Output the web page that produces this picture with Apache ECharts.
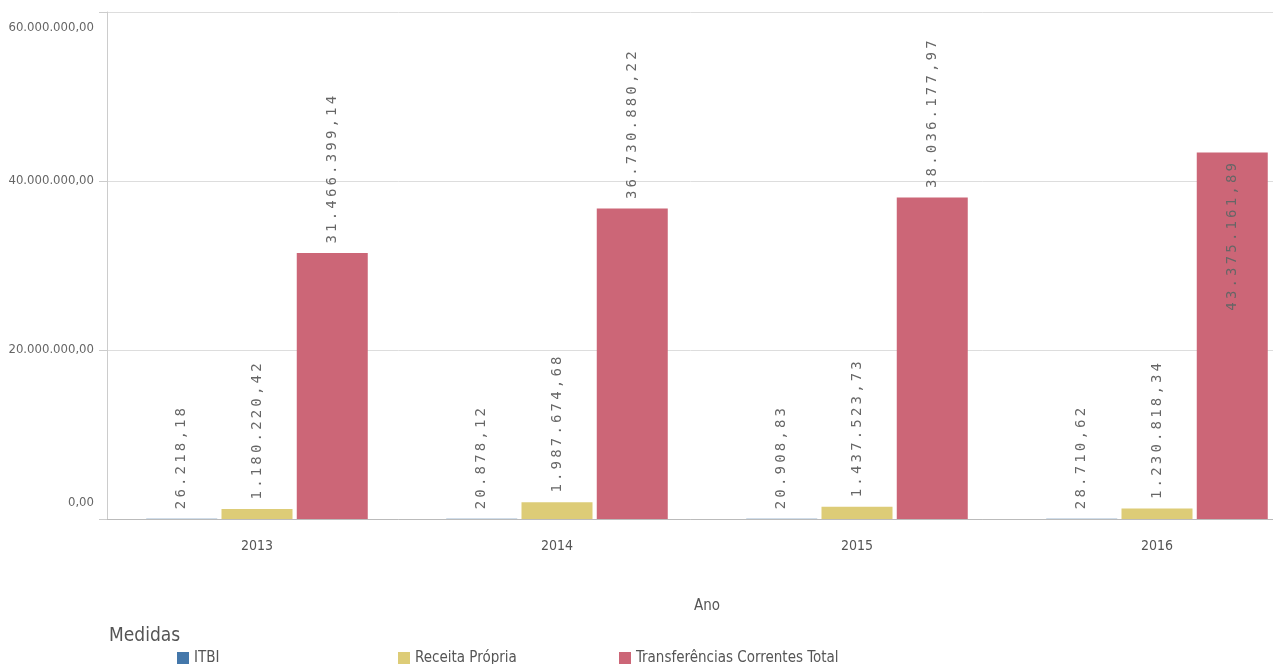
<!DOCTYPE html>
<html>
<head>
<meta charset="utf-8">
<script src="https://cdn.jsdelivr.net/npm/echarts@6/dist/echarts.min.js"></script>
<style>
html,body{margin:0;padding:0;background:#fff;}
#chart{width:1273px;height:664px;}
</style>
</head>
<body>
<div id="chart"></div>
<script>
const categories = ['2013', '2014', '2015', '2016'];
const itbi = [26218.18, 20878.12, 20908.83, 28710.62];
const receitaPropria = [1180220.42, 1987674.68, 1437523.73, 1230818.34];
const transferencias = [31466399.14, 36730880.22, 38036177.97, 43375161.89];
const seriesNames = ['ITBI', 'Receita Própria', 'Transferências Correntes Total'];
const colors = ['#4477aa', '#ddcc77', '#cc6677'];
const yMax = 60000000;
const yInterval = 20000000;

const narrow = "'Liberation Sans Narrow', 'DejaVu Sans Condensed', 'Roboto', sans-serif";

function fmt(v) {
  const parts = Number(v).toFixed(2).split('.');
  return parts[0].replace(/\B(?=(\d{3})+(?!\d))/g, '.') + ',' + parts[1];
}
function spaced(s) {
  return s.split('').map(ch => '{c|' + ch + '}').join('');
}

const labelBase = {
  show: true,
  position: 'top',
  rotate: 90,
  align: 'left',
  verticalAlign: 'middle',
  distance: 8,
  formatter: p => spaced(fmt(p.value)),
  rich: {
    c: { width: 11.6, align: 'center', fontFamily: 'DejaVu Sans Mono', fontSize: 14, color: '#666' }
  }
};

function buildData(arr) {
  return arr.map(v => {
    if (v + yMax * 0.3 > yMax) {
      return { value: v, label: { position: 'insideTop', align: 'right', distance: 9 } };
    }
    return v;
  });
}

const allSeries = [itbi, receitaPropria, transferencias].map((arr, i) => ({
  name: seriesNames[i],
  type: 'bar',
  barWidth: 71,
  barGap: '6%',
  itemStyle: { color: colors[i] },
  label: labelBase,
  data: buildData(arr)
}));

const legendLefts = [172, 393, 614];
const legends = seriesNames.map((n, i) => ({
  left: legendLefts[i],
  top: 646,
  itemWidth: 12,
  itemHeight: 13,
  icon: 'rect',
  data: [n],
  textStyle: { fontFamily: narrow, fontSize: 15, color: '#555' }
}));

const chart = echarts.init(document.getElementById('chart'));
chart.setOption({
  animation: false,
  color: colors,
  title: {
    text: 'Medidas',
    left: 104,
    top: 622,
    textStyle: { fontFamily: narrow, fontSize: 19, fontWeight: 'normal', color: '#555' }
  },
  legend: legends,
  grid: { left: 107, top: 12, width: 1200, bottom: 145, outerBoundsMode: 'none', containLabel: false },
  xAxis: {
    type: 'category',
    data: categories,
    name: 'Ano',
    nameLocation: 'middle',
    nameGap: 80,
    nameTextStyle: { fontFamily: narrow, fontSize: 15, color: '#555' },
    axisLine: { lineStyle: { color: '#bbb', width: 1 } },
    axisTick: { show: false },
    axisLabel: { margin: 20, fontFamily: narrow, fontSize: 14, color: '#555' }
  },
  yAxis: {
    type: 'value',
    min: 0,
    max: yMax,
    interval: yInterval,
    axisLine: { show: true, lineStyle: { color: '#ccc' } },
    axisTick: { show: true, length: 8, lineStyle: { color: '#ccc' } },
    splitLine: { lineStyle: { color: '#ddd' } },
    axisLabel: {
      margin: 13,
      formatter: v => fmt(v),
      fontFamily: narrow,
      fontSize: 13,
      lineHeight: 32,
      color: '#666',
      verticalAlignMinLabel: 'bottom',
      verticalAlignMaxLabel: 'top'
    }
  },
  series: allSeries
});
</script>
</body>
</html>
